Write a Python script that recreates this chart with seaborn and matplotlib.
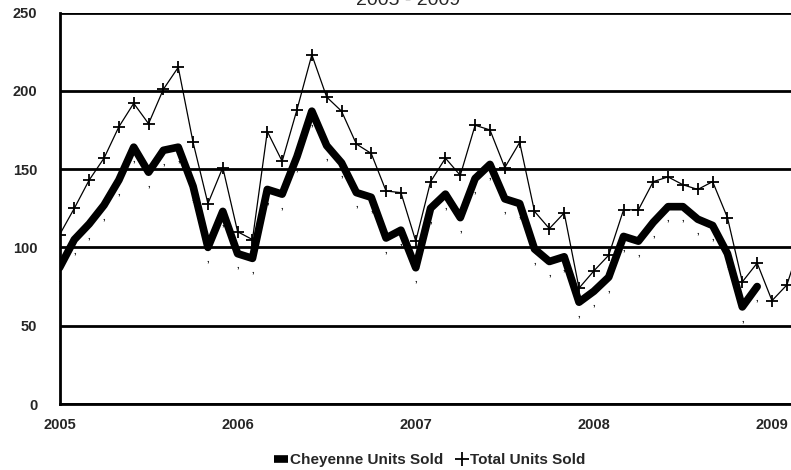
import numpy as np
import pandas as pd
import matplotlib
matplotlib.use("Agg")
import matplotlib.pyplot as plt
import seaborn as sns
from matplotlib.lines import Line2D

# ---------------------------
# Data (monthly, Jan 2005 onward)
# ---------------------------
total_units = [108, 125, 143, 157, 177, 192, 179, 201, 215, 167, 128, 151,
               110, 105, 174, 155, 188, 223, 196, 187, 166, 160, 136, 135,
               104, 142, 157, 146, 178, 175, 151, 167, 123, 112, 122, 74,
               85, 95, 124, 124, 142, 145, 140, 137, 142, 119, 78, 90,
               66, 76, 105]
cheyenne_units = [87, 105, 115, 127, 143, 164, 148, 162, 164, 139, 100, 123,
                  96, 93, 137, 134, 158, 187, 165, 154, 135, 132, 106, 111,
                  87, 125, 134, 119, 144, 153, 131, 128, 99, 91, 94, 65,
                  72, 81, 107, 104, 116, 126, 126, 118, 114, 96, 62, 75]
start_year = 2005
year_ticks = [2005, 2006, 2007, 2008, 2009]
y_ticks = [0, 50, 100, 150, 200, 250]

df_total = pd.DataFrame({"year": start_year + np.arange(len(total_units)) / 12,
                         "units": total_units})
df_chey = pd.DataFrame({"year": start_year + np.arange(len(cheyenne_units)) / 12,
                        "units": cheyenne_units})

# ---------------------------
# Style
# ---------------------------
sns.set_style("white")
plt.rcParams["font.family"] = ["Liberation Sans", "DejaVu Sans"]
plt.rcParams["font.weight"] = "bold"

fig = plt.figure(figsize=(7.91, 4.70), dpi=100)
ax = fig.add_axes([59.5 / 791, 1 - 404 / 470, 1 - 59.5 / 791, (404 - 12.5) / 470])

sns.lineplot(data=df_total, x="year", y="units", ax=ax, color="black", lw=0.9,
             marker="+", markersize=9, markeredgewidth=1.3, markeredgecolor="black",
             zorder=3)
sns.lineplot(data=df_chey, x="year", y="units", ax=ax, color="black", lw=5.5,
             solid_capstyle="round", solid_joinstyle="round", zorder=4)

# odd little comma markers under the Cheyenne points
for x, y in zip(df_chey["year"], df_chey["units"]):
    ax.annotate(",", (x, y), xytext=(0, -8), textcoords="offset points",
                ha="center", va="center", fontsize=7, fontweight="bold", zorder=2)

ax.set_xlim(2005, 2009 + 19 / 178.1)
ax.set_ylim(0, 250)
ax.set_xticks(year_ticks)
ax.set_xticklabels([str(y) for y in year_ticks])
ax.set_yticks(y_ticks)
ax.set_xlabel("")
ax.set_ylabel("")

ax.yaxis.grid(True, color="black", lw=2)
ax.set_axisbelow(True)
for side in ["top", "right"]:
    ax.spines[side].set_visible(False)
for side in ["left", "bottom"]:
    ax.spines[side].set_color("black")
    ax.spines[side].set_linewidth(2)

ax.tick_params(axis="y", direction="out", length=8, width=2, pad=8,
               labelsize=10.5)
ax.tick_params(axis="x", direction="out", length=8, width=2, pad=2,
               labelsize=10.5)
for lab in ax.get_xticklabels() + ax.get_yticklabels():
    lab.set_fontweight("bold")

# title (cut off by the top of the picture, as in the original)
fig.text(408 / 791, 1 - 5 / 470, "2005 - 2009", ha="center", va="baseline",
         fontsize=14, fontweight="normal")

handles = [Line2D([], [], color="black", lw=5.5, solid_capstyle="butt"),
           Line2D([], [], color="black", lw=0, marker="+", markersize=10,
                  markeredgewidth=1.3)]
fig.legend(handles, ["Cheyenne Units Sold", "Total Units Sold"],
           loc="center", bbox_to_anchor=(430 / 791, 10 / 470), ncol=2,
           frameon=False, handlelength=0.9, handletextpad=0.1, columnspacing=0.8,
           prop={"weight": "bold", "size": 11})

fig.savefig("out.png", dpi=100)
